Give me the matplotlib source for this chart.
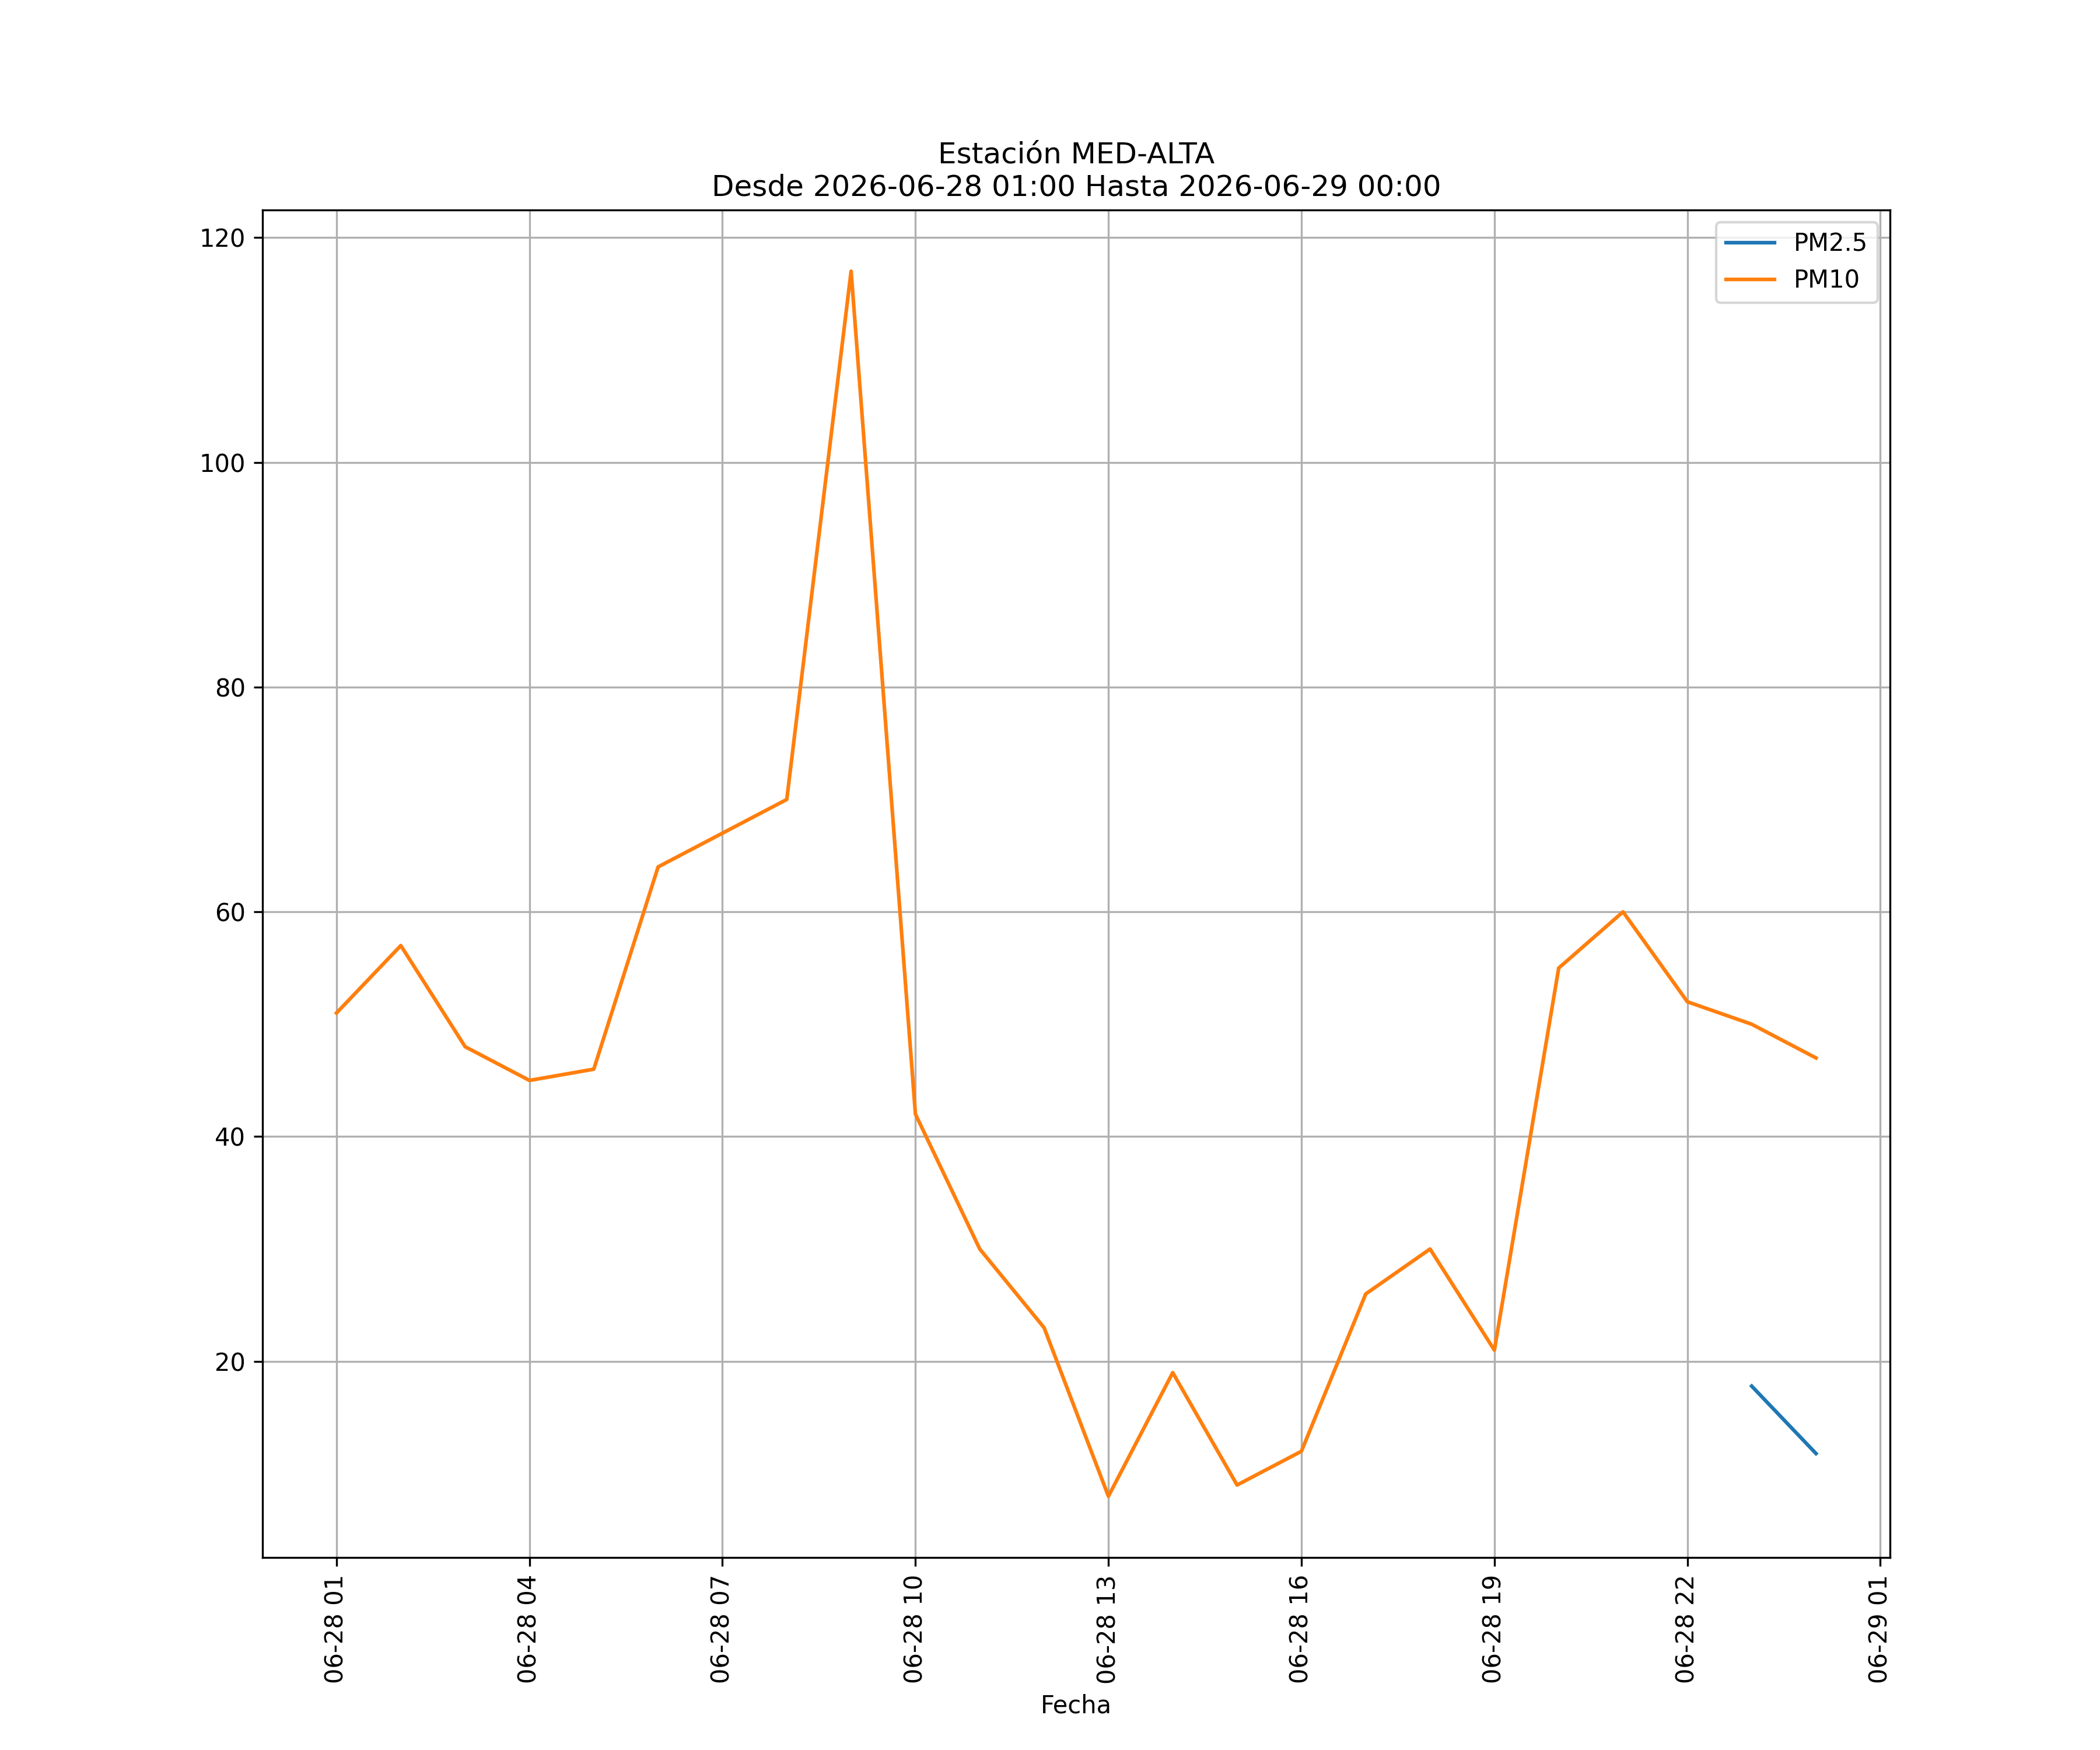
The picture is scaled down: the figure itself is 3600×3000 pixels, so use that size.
import matplotlib
matplotlib.use("Agg")
import matplotlib.pyplot as plt
import matplotlib.dates as mdates
import numpy as np
import pandas as pd

# hourly readings, 2026-06-28 01:00 .. 2026-06-29 00:00
fechas = pd.date_range("2026-06-28 01:00", "2026-06-29 00:00", freq="h")
pm25 = [np.nan] * 22 + [17.8, 11.8]
pm10 = [51, 57, 48, 45, 46, 64, 67, 70, 117, 42, 30, 23,
        8, 19, 9, 12, 26, 30, 21, 55, 60, 52, 50, 47]

fig, ax = plt.subplots(figsize=(12, 10), dpi=300)
ax.plot(fechas, pm25, label="PM2.5")
ax.plot(fechas, pm10, label="PM10")

ax.xaxis.set_major_locator(mdates.HourLocator(interval=3))
ax.xaxis.set_major_formatter(mdates.DateFormatter("%m-%d %H"))
plt.xticks(rotation=90)

ax.set_xlabel("Fecha")
ax.set_title("Estación MED-ALTA\nDesde 2026-06-28 01:00 Hasta 2026-06-29 00:00")
ax.grid(True)
ax.legend(loc="upper right")

fig.savefig("out.png")
